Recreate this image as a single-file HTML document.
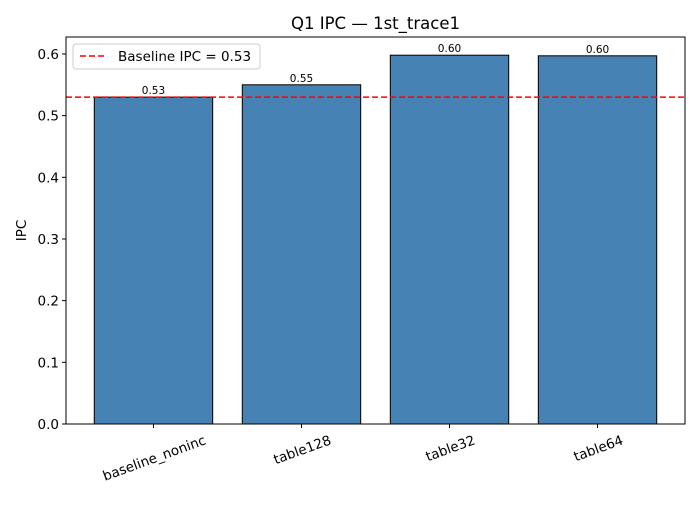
<!DOCTYPE html>
<html><head><meta charset="utf-8"><style>
body{margin:0;background:#fff;font-family:"Liberation Sans","DejaVu Sans",sans-serif}
svg text{font-family:"DejaVu Sans","Liberation Sans",sans-serif}
</style></head><body>
<svg id="chart" width="700" height="500" xmlns="http://www.w3.org/2000/svg"></svg>
<script>
const categories=["baseline_noninc","table128","table32","table64"];
const ipcValues=[0.530,0.550,0.598,0.597];
const valueLabels=["0.53","0.55","0.60","0.60"];
const yTicks=[0,0.1,0.2,0.3,0.4,0.5,0.6];
const yTickLabels=["0.0","0.1","0.2","0.3","0.4","0.5","0.6"];
const baselineIPC=0.53;

const svg=document.getElementById('chart');
const NS='http://www.w3.org/2000/svg';
const L=66,R=685,T=37,B=424;
const xMin=-0.591,xMax=3.591,yMax=0.6275;
const x=v=>L+(v-xMin)/(xMax-xMin)*(R-L);
const y=v=>B-v/yMax*(B-T);
function mk(tag,attrs,parent){const e=document.createElementNS(NS,tag);for(const k in attrs)e.setAttribute(k,attrs[k]);(parent||svg).appendChild(e);return e;}

const bars=mk('g',{});


categories.forEach((c,i)=>{
  const x0=x(i-0.4),x1=x(i+0.4);
  const r=mk('rect',{x:x0,y:y(ipcValues[i]),width:x1-x0,height:B-y(ipcValues[i]),fill:'#4682b4',stroke:'#000','stroke-width':1},bars);
  
  
  const t=mk('text',{x:x(i),y:y(ipcValues[i])-3,'font-size':10.5,'text-anchor':'middle'},bars);
  t.textContent=valueLabels[i];
  
  
  mk('line',{x1:x(i),x2:x(i),y1:B,y2:B+4,stroke:'#000'});
  const lab=mk('text',{x:0,y:0,'font-size':13.5,'text-anchor':'middle','dominant-baseline':'central'});
  lab.textContent=c;
  
  
  const w=lab.getComputedTextLength();
  const s=Math.sin(20*Math.PI/180),co=Math.cos(20*Math.PI/180);
  const cy=B+9+(w*s+15*co)/2;
  lab.setAttribute('transform',`translate(${x(i)+1} ${cy}) rotate(-20)`);
});
yTicks.forEach((v,i)=>{
  mk('line',{x1:L-4,x2:L,y1:y(v),y2:y(v),stroke:'#000'});
  const t=mk('text',{x:L-7,y:y(v)+5,'font-size':13.5,'text-anchor':'end'});
  t.textContent=yTickLabels[i];
  
  
});
const bl=mk('line',{x1:L,x2:R,y1:y(baselineIPC),y2:y(baselineIPC),stroke:'#ff0000','stroke-width':1.5,'stroke-dasharray':'6,3'});


const ax=mk('rect',{x:L,y:T,width:R-L,height:B-T,fill:'none',stroke:'#000','stroke-width':1});


const title=mk('text',{x:(L+R)/2,y:T-8,'font-size':16.5,'text-anchor':'middle'});
title.textContent='Q1 IPC — 1st_trace1';


const yl=mk('text',{x:26,y:(T+B)/2,'font-size':13.5,'text-anchor':'middle',transform:`rotate(-90 26 ${(T+B)/2})`});
yl.textContent='IPC';


const lg=mk('g',{});


mk('rect',{x:73,y:44,width:187,height:25,rx:3,fill:'#fff','fill-opacity':0.8,stroke:'#ccc'},lg);
mk('line',{x1:80,x2:106,y1:56,y2:56,stroke:'#ff0000','stroke-width':1.5,'stroke-dasharray':'6,3'},lg);
const lt=mk('text',{x:118,y:61,'font-size':13.5},lg);
lt.textContent='Baseline IPC = 0.53';


</script>
</body></html>
